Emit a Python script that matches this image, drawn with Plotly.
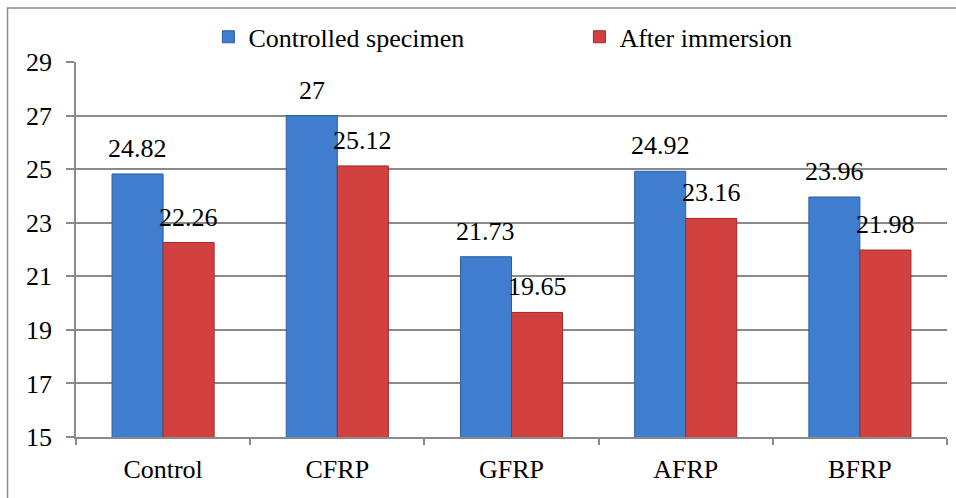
import plotly.graph_objects as go

categories = ["Control", "CFRP", "GFRP", "AFRP", "BFRP"]
controlled = [24.82, 27, 21.73, 24.92, 23.96]
after_imm = [22.26, 25.12, 19.65, 23.16, 21.98]
label_controlled = ["24.82", "27", "21.73", "24.92", "23.96"]
label_after = ["22.26", "25.12", "19.65", "23.16", "21.98"]
y_ticks = [15, 17, 19, 21, 23, 25, 27, 29]

FONT = "Liberation Serif"
L, R, T, B = 76, 9, 62, 61
W, H = 956, 498
pw, ph = W - L - R, H - T - B

fig = go.Figure()
fig.add_trace(go.Bar(
    x=categories, y=controlled, name="Controlled specimen",
    marker=dict(color="#3F7ECE", line=dict(color="#2B5E9E", width=1)),
))
fig.add_trace(go.Bar(
    x=categories, y=after_imm, name="After immersion",
    marker=dict(color="#D2403F", line=dict(color="#9E2B2B", width=1)),
))

bar_w = pw / 5 * (1 - 0.414) / 2
for cat, v, t in zip(categories, controlled, label_controlled):
    fig.add_annotation(x=cat, y=v, text=t, showarrow=False, xshift=-bar_w / 2,
                       yanchor="bottom", yshift=9, font=dict(family=FONT, size=26, color="black"))
for cat, v, t in zip(categories, after_imm, label_after):
    fig.add_annotation(x=cat, y=v, text=t, showarrow=False, xshift=bar_w / 2,
                       yanchor="bottom", yshift=9, font=dict(family=FONT, size=26, color="black"))

# outer chart border (top and left visible)
fig.add_shape(type="rect", xref="paper", yref="paper",
              x0=(7.5 - L) / pw, x1=(W + 5 - L) / pw,
              y0=-(B + 5) / ph, y1=(H - B - 8) / ph,
              line=dict(color="#8a8a8a", width=1.5), fillcolor="rgba(0,0,0,0)", layer="below")

fig.update_layout(
    width=W, height=H,
    margin=dict(l=L, r=R, t=T, b=B, autoexpand=False),
    paper_bgcolor="white", plot_bgcolor="white",
    barmode="group", bargap=0.414, bargroupgap=0,
    font=dict(family=FONT, size=26, color="black"),
    showlegend=True,
    legend=dict(orientation="h", x=0.152, xanchor="left", y=1.067, yanchor="middle",
                font=dict(family=FONT, size=26, color="black"),
                entrywidth=326, entrywidthmode="pixels", itemwidth=30,
                bgcolor="rgba(0,0,0,0)"),
    xaxis=dict(showline=True, linecolor="#8a8a8a", linewidth=1.5, automargin=False,
               ticks="outside", ticklen=6, tickcolor="#8a8a8a", tickwidth=1.5,
               tickson="boundaries", showgrid=False, ticklabelstandoff=8,
               tickfont=dict(family=FONT, size=26, color="black")),
    yaxis=dict(range=[15, 29], tickvals=y_ticks, showline=True, linecolor="#8a8a8a", linewidth=1.5,
               automargin=False,
               ticks="outside", ticklen=8, tickcolor="#8a8a8a", tickwidth=1.5,
               showgrid=True, gridcolor="#8a8a8a", gridwidth=1.5, zeroline=False,
               ticklabelstandoff=9, tickfont=dict(family=FONT, size=26, color="black")),
)

fig.write_html("out.html", config={"displayModeBar": False},
               post_script="document.body.style.margin='0';document.body.style.overflow='hidden';")
